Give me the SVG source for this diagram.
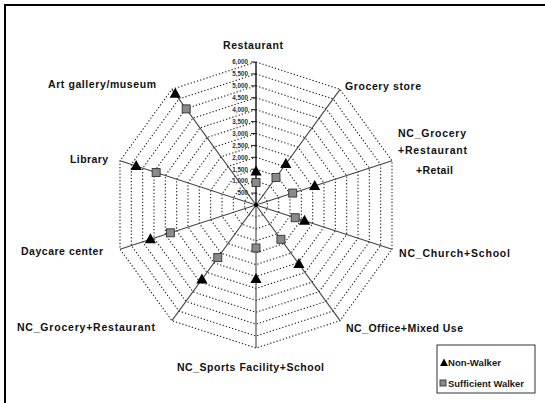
<svg xmlns="http://www.w3.org/2000/svg" width="545" height="403" viewBox="0 0 545 403">
<style>
.ring{fill:none;stroke:#222;stroke-width:1.1;stroke-dasharray:1.3 2}
.axis{stroke:#444;stroke-width:1.1}
.vaxis{stroke:#111;stroke-width:1.4}
.tick{stroke:#222;stroke-width:1}
.lab{font-family:"Liberation Sans",Arial,sans-serif;font-weight:bold;font-size:10.5px;fill:#111}
.val{font-family:"Liberation Sans",Arial,sans-serif;font-weight:bold;font-size:6.3px;fill:#333;text-anchor:end}
.leg{font-family:"Liberation Sans",Arial,sans-serif;font-weight:bold;font-size:8.5px;fill:#1a1a1a}
.sq{fill:#8a8a8a;stroke:#333;stroke-width:0.9}
.tri{fill:#000}
</style>
<defs>
<path id="tri" d="M0,-6 L5.6,4 L-5.6,4 Z" class="tri"/>
<rect id="sq" x="-4" y="-4" width="8" height="8" class="sq"/>
</defs>
<rect width="545" height="403" fill="#fff"/>
<g id="frame" stroke="#000" stroke-width="2" fill="none">
<line x1="4" y1="5" x2="545" y2="5"/>
<line x1="5" y1="4" x2="5" y2="403"/>
</g>
<g id="grid">
<polygon class="ring" points="256,193.08 263.00,195.36 267.33,201.32 267.33,208.68 263.00,214.64 256,216.92 249.00,214.64 244.67,208.68 244.67,201.32 249.00,195.36"/>
<polygon class="ring" points="256,181.17 270.01,185.72 278.67,197.64 278.67,212.36 270.01,224.28 256,228.83 241.99,224.28 233.33,212.36 233.33,197.64 241.99,185.72"/>
<polygon class="ring" points="256,169.25 277.01,176.08 290.00,193.95 290.00,216.05 277.01,233.92 256,240.75 234.99,233.92 222.00,216.05 222.00,193.95 234.99,176.08"/>
<polygon class="ring" points="256,157.33 284.02,166.44 301.34,190.27 301.34,219.73 284.02,243.56 256,252.67 227.98,243.56 210.66,219.73 210.66,190.27 227.98,166.44"/>
<polygon class="ring" points="256,145.42 291.02,156.80 312.67,186.59 312.67,223.41 291.02,253.20 256,264.58 220.98,253.20 199.33,223.41 199.33,186.59 220.98,156.80"/>
<polygon class="ring" points="256,133.5 298.03,147.16 324.00,182.91 324.00,227.09 298.03,262.84 256,276.5 213.97,262.84 188.00,227.09 188.00,182.91 213.97,147.16"/>
<polygon class="ring" points="256,121.58 305.03,137.52 335.34,179.22 335.34,230.78 305.03,272.48 256,288.42 206.97,272.48 176.66,230.78 176.66,179.22 206.97,137.52"/>
<polygon class="ring" points="256,109.67 312.04,127.87 346.67,175.54 346.67,234.46 312.04,282.13 256,300.33 199.96,282.13 165.33,234.46 165.33,175.54 199.96,127.87"/>
<polygon class="ring" points="256,97.75 319.04,118.23 358.00,171.86 358.00,238.14 319.04,291.77 256,312.25 192.96,291.77 154.00,238.14 154.00,171.86 192.96,118.23"/>
<polygon class="ring" points="256,85.83 326.05,108.59 369.34,168.18 369.34,241.82 326.05,301.41 256,324.17 185.95,301.41 142.66,241.82 142.66,168.18 185.95,108.59"/>
<polygon class="ring" points="256,73.92 333.05,98.95 380.67,164.49 380.67,245.51 333.05,311.05 256,336.08 178.95,311.05 131.33,245.51 131.33,164.49 178.95,98.95"/>
<polygon class="ring" points="256,62 340.06,89.31 392.00,160.81 392.00,249.19 340.06,320.69 256,348 171.94,320.69 120.00,249.19 120.00,160.81 171.94,89.31"/>
</g>
<g id="connectors">
<line class="axis" x1="256" y1="205" x2="340.06" y2="89.31"/>
<line class="axis" x1="256" y1="205" x2="392.00" y2="160.81"/>
<line class="axis" x1="256" y1="205" x2="392.00" y2="249.19"/>
<line class="axis" x1="256" y1="205" x2="340.06" y2="320.69"/>
<line class="axis" x1="256" y1="205" x2="256" y2="348"/>
<line class="axis" x1="256" y1="205" x2="171.94" y2="320.69"/>
<line class="axis" x1="256" y1="205" x2="120.00" y2="249.19"/>
<line class="axis" x1="256" y1="205" x2="120.00" y2="160.81"/>
<line class="axis" x1="256" y1="205" x2="171.94" y2="89.31"/>
<line class="vaxis" x1="256" y1="205" x2="256" y2="62"/>
<g id="ticks">
<line class="tick" x1="251" y1="62" x2="256" y2="62"/>
<line class="tick" x1="251" y1="73.92" x2="256" y2="73.92"/>
<line class="tick" x1="251" y1="85.83" x2="256" y2="85.83"/>
<line class="tick" x1="251" y1="97.75" x2="256" y2="97.75"/>
<line class="tick" x1="251" y1="109.67" x2="256" y2="109.67"/>
<line class="tick" x1="251" y1="121.58" x2="256" y2="121.58"/>
<line class="tick" x1="251" y1="133.5" x2="256" y2="133.5"/>
<line class="tick" x1="251" y1="145.42" x2="256" y2="145.42"/>
<line class="tick" x1="251" y1="157.33" x2="256" y2="157.33"/>
<line class="tick" x1="251" y1="169.25" x2="256" y2="169.25"/>
<line class="tick" x1="251" y1="181.17" x2="256" y2="181.17"/>
<line class="tick" x1="251" y1="193.08" x2="256" y2="193.08"/>
</g>
<circle cx="256" cy="205" r="2" fill="#000"/>
</g>
<g id="scale-labels">
<text class="val" x="248" y="64.2">6,000</text>
<text class="val" x="248" y="76.1">5,500</text>
<text class="val" x="248" y="88">5,000</text>
<text class="val" x="248" y="100">4,500</text>
<text class="val" x="248" y="111.9">4,000</text>
<text class="val" x="248" y="123.8">3,500</text>
<text class="val" x="248" y="135.7">3,000</text>
<text class="val" x="248" y="147.6">2,500</text>
<text class="val" x="248" y="159.5">2,000</text>
<text class="val" x="248" y="171.5">1,500</text>
<text class="val" x="248" y="183.4">1,000</text>
<text class="val" x="248" y="195.3">500</text>
</g>
<g id="sufficient-walker">
<use href="#sq" x="256" y="182.5"/>
<use href="#sq" x="275.99" y="177.49"/>
<use href="#sq" x="292.71" y="193.07"/>
<use href="#sq" x="295.19" y="217.73"/>
<use href="#sq" x="280.92" y="239.30"/>
<use href="#sq" x="256" y="248"/>
<use href="#sq" x="217.79" y="257.59"/>
<use href="#sq" x="170.40" y="232.81"/>
<use href="#sq" x="156.14" y="172.56"/>
<use href="#sq" x="186.17" y="108.89"/>
</g>
<g id="non-walker">
<use href="#tri" x="256" y="171.5"/>
<use href="#tri" x="285.86" y="163.90"/>
<use href="#tri" x="314.68" y="185.93"/>
<use href="#tri" x="304.51" y="220.76"/>
<use href="#tri" x="298.91" y="264.06"/>
<use href="#tri" x="256" y="279"/>
<use href="#tri" x="201.92" y="279.43"/>
<use href="#tri" x="150.43" y="239.30"/>
<use href="#tri" x="136.16" y="166.07"/>
<use href="#tri" x="175.24" y="93.84"/>
</g>
<g id="node-restaurant"><text class="lab" x="223" y="48.5" textLength="60" lengthAdjust="spacing">Restaurant</text></g>
<g id="node-grocery-store"><text class="lab" x="345" y="90" textLength="76" lengthAdjust="spacing">Grocery store</text></g>
<g id="node-nc-grocery-restaurant-retail">
<text class="lab" x="398" y="136.7" textLength="68" lengthAdjust="spacing">NC_Grocery</text>
<text class="lab" x="398" y="154.3" textLength="69" lengthAdjust="spacing">+Restaurant</text>
<text class="lab" x="416" y="173.5" textLength="37" lengthAdjust="spacing">+Retail</text>
</g>
<g id="node-nc-church-school"><text class="lab" x="399" y="256.7" textLength="111" lengthAdjust="spacing">NC_Church+School</text></g>
<g id="node-nc-office-mixed-use"><text class="lab" x="346" y="331.7" textLength="117" lengthAdjust="spacing">NC_Office+Mixed Use</text></g>
<g id="node-nc-sports-facility-school"><text class="lab" x="177" y="370.7" textLength="147" lengthAdjust="spacing">NC_Sports Facility+School</text></g>
<g id="node-nc-grocery-restaurant"><text class="lab" x="17" y="330.7" textLength="138" lengthAdjust="spacing">NC_Grocery+Restaurant</text></g>
<g id="node-daycare-center"><text class="lab" x="21" y="255" textLength="82" lengthAdjust="spacing">Daycare center</text></g>
<g id="node-library"><text class="lab" x="70" y="162.7" textLength="38" lengthAdjust="spacing">Library</text></g>
<g id="node-art-gallery-museum"><text class="lab" x="48" y="88.3" textLength="108" lengthAdjust="spacing">Art gallery/museum</text></g>
<g id="legend">
<rect x="437" y="345" width="98" height="48" fill="#fff" stroke="#333" stroke-width="1"/>
<path d="M444,358.5 L448,366 L440,366 Z" fill="#000"/>
<text class="leg" x="448" y="366" textLength="53" lengthAdjust="spacingAndGlyphs">Non-Walker</text>
<rect x="440" y="380" width="6" height="6" class="sq"/>
<text class="leg" x="448" y="386.5" textLength="76" lengthAdjust="spacingAndGlyphs">Sufficient Walker</text>
</g>
</svg>
